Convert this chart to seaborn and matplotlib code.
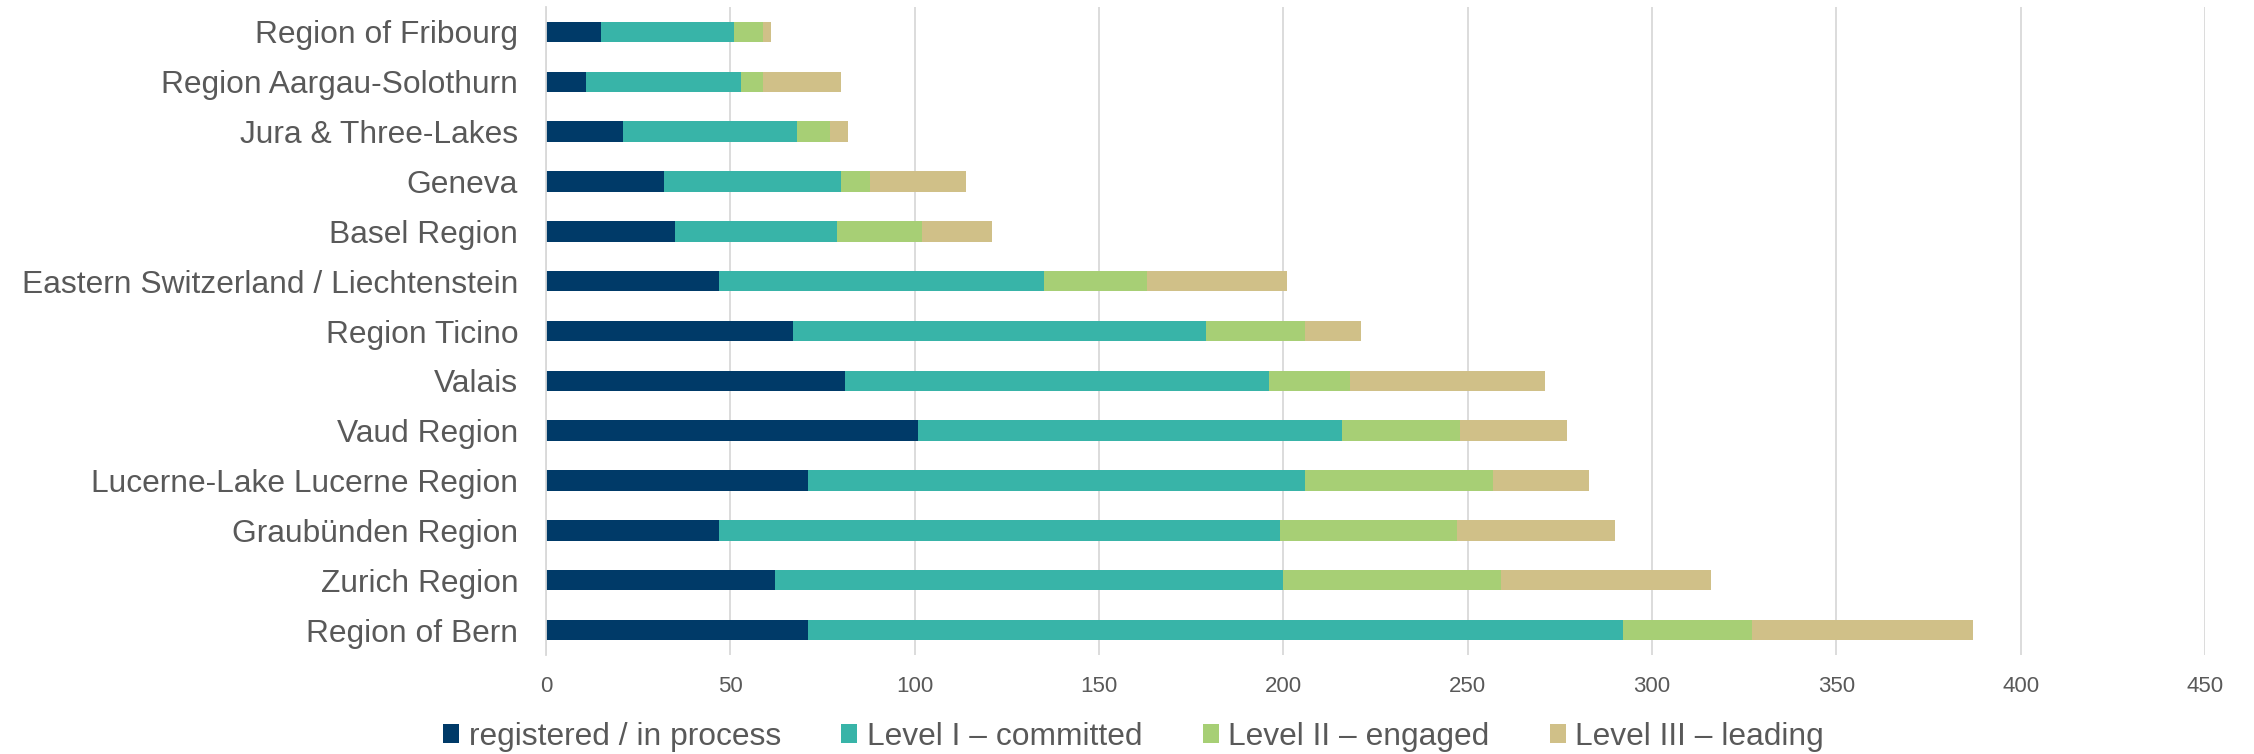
import matplotlib
matplotlib.use("Agg")
import matplotlib.pyplot as plt
from matplotlib.patches import Patch
import seaborn as sns
import numpy as np
import pandas as pd

# Данные (сверху вниз)
regions = [
    "Region of Fribourg",
    "Region Aargau-Solothurn",
    "Jura & Three-Lakes",
    "Geneva",
    "Basel Region",
    "Eastern Switzerland / Liechtenstein",
    "Region Ticino",
    "Valais",
    "Vaud Region",
    "Lucerne-Lake Lucerne Region",
    "Graubünden Region",
    "Zurich Region",
    "Region of Bern",
]
registered = [15, 11, 21, 32, 35, 47, 67, 81, 101, 71, 47, 62, 71]
level_1 = [36, 42, 47, 48, 44, 88, 112, 115, 115, 135, 152, 138, 221]
level_2 = [8, 6, 9, 8, 23, 28, 27, 22, 32, 51, 48, 59, 35]
level_3 = [2, 21, 5, 26, 19, 38, 15, 53, 29, 26, 43, 57, 60]

series_names = [
    "registered / in process",
    "Level I \u2013 committed",
    "Level II \u2013 engaged",
    "Level III \u2013 leading",
]
colors = ["#003A68", "#38B4A8", "#A7CF75", "#D0C088"]
x_ticks = list(range(0, 451, 50))

sns.set_theme(style="white")
plt.rcParams["font.family"] = ["Liberation Sans", "DejaVu Sans"]
text_color = "#595959"

fig = plt.figure(figsize=(22.54, 7.54), dpi=100)
ax = fig.add_axes([0.2422, 0.1313, 0.7361, 0.8594])

# Накопленные суммы для составных столбцов
values = np.array([registered, level_1, level_2, level_3])
cumulative = values.cumsum(axis=0)
df = pd.DataFrame({"region": regions})
for i in range(len(series_names)):
    df[f"cum{i}"] = cumulative[i]

# Рисуем от самой длинной части к самой короткой
for i in reversed(range(len(series_names))):
    sns.barplot(
        data=df, x=f"cum{i}", y="region", order=regions,
        color=colors[i], saturation=1, width=0.41, linewidth=0, ax=ax,
    )

ax.set_xlim(0, 450)
ax.set_ylim(len(regions) - 0.5, -0.5)
ax.set_xticks(x_ticks)
ax.set_xlabel("")
ax.set_ylabel("")
ax.xaxis.grid(True, color="#D9D9D9", linewidth=1.3)
ax.set_axisbelow(True)
for side in ["top", "right", "bottom"]:
    ax.spines[side].set_visible(False)
ax.spines["left"].set_color("#D9D9D9")
ax.spines["left"].set_linewidth(1.3)

ax.tick_params(axis="y", length=0, pad=20, labelsize=22.9, labelcolor=text_color)
ax.tick_params(axis="x", length=0, pad=15, labelsize=16, labelcolor=text_color)

handles = [Patch(facecolor=c, edgecolor="none") for c in colors]
fig.legend(
    handles=handles, labels=series_names, loc="lower center",
    bbox_to_anchor=(0.503, 0.003), ncol=4, frameon=False,
    fontsize=22.9, labelcolor=text_color, handlelength=0.5, handleheight=0.5,
    handletextpad=0.3, columnspacing=1.9, borderpad=0, borderaxespad=0,
)

fig.savefig("out.png", dpi=100)
plt.close(fig)
